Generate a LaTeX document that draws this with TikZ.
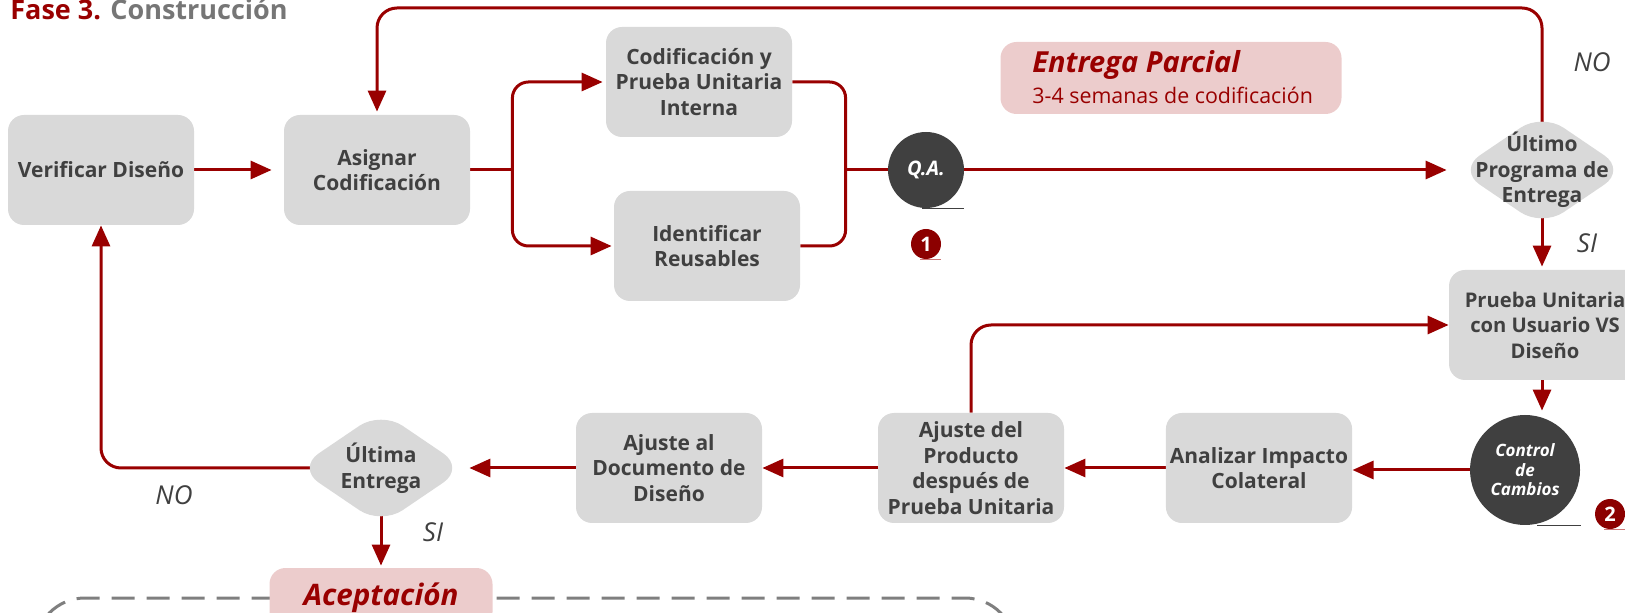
\documentclass[tikz,border=0pt]{standalone}
\usepackage{fontspec}
\setmainfont{Open Sans}
\usetikzlibrary{arrows.meta,shapes.geometric,backgrounds,calc}
\definecolor{dred}{RGB}{153,0,0}
\definecolor{boxgray}{RGB}{217,217,217}
\definecolor{txtgray}{RGB}{64,64,64}
\definecolor{circgray}{RGB}{64,64,64}
\definecolor{pinkbg}{RGB}{236,204,204}
\definecolor{titlegray}{RGB}{118,118,118}
\definecolor{badgered}{RGB}{140,0,0}
\definecolor{frame}{RGB}{127,127,127}
\begin{document}
\begin{tikzpicture}[x=0.5pt,y=-0.5pt,
  boxfont/.style={font=\fontsize{10.5pt}{12.75pt}\selectfont\bfseries},
  box/.style={boxfont, fill=boxgray, rounded corners=8pt, minimum width=93pt, minimum height=55pt, inner sep=2pt, align=center, text=txtgray},
  dia/.style={fill=boxgray, diamond, rounded corners=13pt, minimum width=84pt, minimum height=57pt, inner sep=0pt},
  diatext/.style={boxfont, align=center, text=txtgray, inner sep=0pt},
  conn/.style={draw=dred, line width=1.5pt},
  arr/.style={conn, -{Triangle[length=10.5pt,width=9pt]}},
  circ/.style={circle, fill=circgray, inner sep=0pt, text=white, align=center},
  badge/.style={circle, fill=badgered, minimum size=15pt, inner sep=0pt, text=white, font=\bfseries\fontsize{10pt}{10pt}\selectfont},
  lbl/.style={font=\itshape\fontsize{13pt}{13pt}\selectfont, text=txtgray, inner sep=0pt},
  pinkbox/.style={fill=pinkbg, rounded corners=8pt, inner sep=0pt},
  shadowline/.style={draw=circgray, line width=0.8pt},
]
\useasboundingbox (0,0) rectangle (1625,613);

% title
\node[anchor=base west, inner sep=0pt, font=\bfseries\fontsize{13.5pt}{14pt}\selectfont] (title) at (10,20) {\textcolor{dred}{Fase 3.} \textcolor{titlegray}{Construcción}};

% dashed frame
\draw[frame, line width=1.5pt, dash pattern=on 11.5pt off 6pt, rounded corners=25pt] (35,598) rectangle (1015,740);

% nodes
\node[box] (ver) at (101,170) {Verificar Diseño};
\node[box] (asg) at (377,170) {Asignar\\Codificación};
\node[box] (cod) at (699,82) {Codificación y\\Prueba Unitaria\\Interna};
\node[box] (ide) at (707,246) {Identificar\\Reusables};
\node[circ, minimum size=38pt, font=\bfseries\itshape\fontsize{10pt}{10pt}\selectfont] (qa) at (926,170) {Q.A.};
\node[dia, label={[diatext]center:{Último\\Programa de\\Entrega}}] (ult) at (1542,170) {};
\node[box, minimum width=96pt, font=\fontsize{10.1pt}{12.75pt}\selectfont\bfseries] (pru) at (1545,325) {Prueba Unitaria\\con Usuario VS\\Diseño};
\node[circ, minimum size=55pt, font=\bfseries\itshape\fontsize{8.5pt}{9.75pt}\selectfont] (ctl) at (1525,470) {Control\\de\\Cambios};
\node[box] (ana) at (1259,468) {Analizar Impacto\\Colateral};
\node[box] (apr) at (971,468) {Ajuste del\\Producto\\después de\\Prueba Unitaria};
\node[box] (adoc) at (669,468) {Ajuste al\\Documento de\\Diseño};
\node[dia, label={[diatext]center:{Última\\Entrega}}] (ue) at (381,468) {};
\node[pinkbox, minimum width=111.5pt, minimum height=30pt, text=dred, font=\bfseries\itshape\fontsize{14.8pt}{15pt}\selectfont] (acep) at (381,598) {Aceptación};

% Entrega parcial
\node[pinkbox, minimum width=170.5pt, minimum height=36pt] (ep) at (1171,78) {};
\node[anchor=base west, inner sep=0pt, text=dred, font=\bfseries\itshape\fontsize{14.5pt}{15pt}\selectfont] (ept) at (1032,73) {Entrega Parcial};
\node[anchor=base west, inner sep=0pt, text=dred, font=\fontsize{10.7pt}{12pt}\selectfont] (eps) at (1032,104) {3-4 semanas de codificación};

% badges
\node[badge] (b1) at (926,244) {1};
\node[badge] (b2) at (1610,514) {2};
\draw[shadowline] ($(qa.south)+(-4,0)$) -- ++(42,0);
\draw[shadowline] ($(ctl.south)+(12,0)$) -- ++(44,0);
\draw[draw={rgb,255:red,205;green,120;blue,120}, line width=0.8pt] ($(b1.south)+(-6,0)$) -- ++(21,0);
\draw[draw={rgb,255:red,205;green,120;blue,120}, line width=0.8pt] ($(b2.south)+(-6,0)$) -- ++(30,0);

% labels
\node[lbl] (no1) at (1592,62) {NO};
\node[lbl] (si1) at (1587,243) {SI};
\node[lbl] (no2) at (174,495) {NO};
\node[lbl] (si2) at (433,532) {SI};

% connectors
\begin{scope}[on background layer]
  \coordinate (br) at ($(asg.east)+(42,0)$);
  \coordinate (mg) at ($(qa.west)+(-42,0)$);
  \coordinate (topy) at (0,8);
  \draw[arr, shorten >=6pt] (ver) -- (asg);
  \draw[conn] (asg.east) -- (br);
  \draw[arr, rounded corners=8pt, shorten >=1.5pt] (br) |- (cod.west);
  \draw[arr, rounded corners=8pt, shorten >=1pt] (br) |- (ide.west);
  \draw[conn, rounded corners=8pt] (cod.east) -| (mg);
  \draw[conn, rounded corners=8pt] (ide.east) -| (mg);
  \draw[conn] (mg) -- (qa);
  \draw[arr, shorten >=5.5pt] (qa) -- (ult.west);
  \draw[arr, rounded corners=10pt, shorten >=1.5pt] (ult.center) |- (asg.north |- topy) -- (asg.north);
  \draw[arr, shorten >=1.5pt] (ult.center) -- (ult.center |- pru.north);
  \draw[arr, shorten >=2pt] (ult.center |- pru.south) -- (ult.center |- ctl.north);
  \draw[arr] (ctl.center) -- (ctl.center -| ana.east);
  \draw[arr] (ana) -- (apr);
  \draw[arr] (apr) -- (adoc);
  \draw[arr, shorten >=2pt] (adoc) -- (ue.east);
  \draw[arr, rounded corners=10pt] (apr.north) |- (pru.west);
  \draw[arr, rounded corners=10pt] (ue.center) -| (ver.south);
  \draw[arr, shorten >=1pt] (ue.center) -- (acep.north);
\end{scope}
\end{tikzpicture}
\end{document}
